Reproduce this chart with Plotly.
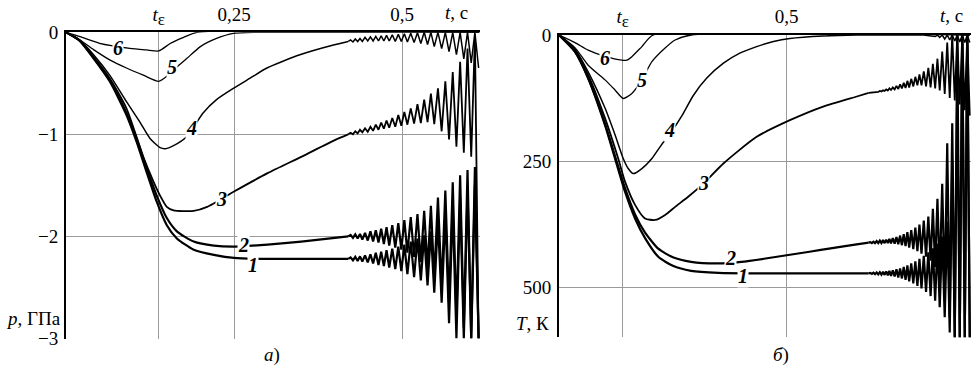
import plotly.graph_objects as go

# ================= panel a): pressure p, GPa =================
a_t_eps = 0.138
a_xticks = [a_t_eps, 0.25, 0.5]
a_xticktext = ["<i>t</i><sub><span style='font-size:17px'>ε</span></sub>", "0,25", "0,5"]
a_yticks = [0, -1, -2, -3]
a_yticktext = ["0", "−1", "−2", "−3"]

# smooth parts (t, p)
a1_t = [0, 0.02, 0.041, 0.065, 0.09, 0.105, 0.12, 0.135, 0.15, 0.165, 0.19, 0.22, 0.25, 0.3, 0.35, 0.42]
a1_p = [0, -0.08, -0.255, -0.48, -0.81, -1.07, -1.37, -1.66, -1.89, -2.02, -2.13, -2.18, -2.21, -2.22, -2.22, -2.22]
a2_t = [0, 0.02, 0.041, 0.065, 0.09, 0.105, 0.12, 0.135, 0.15, 0.165, 0.19, 0.22, 0.25, 0.3, 0.35, 0.42]
a2_p = [0, -0.08, -0.25, -0.47, -0.79, -1.04, -1.33, -1.6, -1.82, -1.95, -2.05, -2.09, -2.1, -2.08, -2.05, -2.0]
a3_t = [0, 0.02, 0.041, 0.065, 0.09, 0.115, 0.13, 0.14, 0.15, 0.16, 0.19, 0.21, 0.25, 0.3, 0.35, 0.4, 0.42]
a3_p = [0, -0.08, -0.24, -0.45, -0.745, -1.22, -1.46, -1.6, -1.71, -1.745, -1.75, -1.71, -1.56, -1.38, -1.22, -1.056, -1.0]
a4_t = [0, 0.02, 0.041, 0.065, 0.09, 0.11, 0.125, 0.14, 0.148, 0.16, 0.18, 0.204, 0.224, 0.249, 0.274, 0.299, 0.348, 0.398, 0.42]
a4_p = [0, -0.075, -0.22, -0.42, -0.68, -0.88, -1.04, -1.13, -1.14, -1.11, -1.02, -0.79, -0.66, -0.55, -0.45, -0.35, -0.22, -0.124, -0.09]
a5_t = [0, 0.021, 0.041, 0.065, 0.09, 0.115, 0.138, 0.15, 0.165, 0.18, 0.2, 0.224, 0.249, 0.284, 0.615]
a5_p = [0, -0.075, -0.17, -0.27, -0.35, -0.42, -0.48, -0.43, -0.34, -0.255, -0.14, -0.06, -0.01, 0, 0]
a6_t = [0, 0.021, 0.05, 0.095, 0.12, 0.138, 0.155, 0.175, 0.195, 0.615]
a6_p = [0, -0.043, -0.108, -0.157, -0.173, -0.183, -0.11, -0.05, 0, 0]

# oscillating tails: times of extrema and the values read at them
a_osc_t = [0.420, 0.4235, 0.427, 0.4305, 0.434, 0.4375, 0.441, 0.445, 0.449, 0.453,
           0.457, 0.461, 0.465, 0.469, 0.473, 0.477, 0.481, 0.4855, 0.490, 0.4945,
           0.499, 0.5035, 0.508, 0.513, 0.518, 0.523, 0.528, 0.533, 0.538, 0.543,
           0.548, 0.5535, 0.559, 0.5645, 0.570, 0.5755, 0.581, 0.5865, 0.592, 0.5975,
           0.603, 0.6085, 0.614]
a1_osc = [-2.22, -2.205, -2.235, -2.20, -2.24, -2.195, -2.245, -2.185, -2.255, -2.175,
          -2.265, -2.16, -2.28, -2.15, -2.29, -2.135, -2.305, -2.12, -2.32, -2.10,
          -2.34, -2.08, -2.37, -2.05, -2.40, -2.02, -2.43, -1.99, -2.48, -1.95,
          -2.55, -1.85, -2.65, -1.78, -2.85, -1.70, -3.0, -1.62, -3.0, -1.55,
          -3.0, -1.50, -3.0]
a2_osc = [-2.00, -1.985, -2.015, -1.98, -2.02, -1.975, -2.03, -1.965, -2.04, -1.95,
          -2.05, -1.94, -2.06, -1.925, -2.075, -1.91, -2.09, -1.89, -2.11, -1.87,
          -2.13, -1.84, -2.16, -1.81, -2.20, -1.78, -2.25, -1.75, -2.31, -1.70,
          -2.40, -1.62, -2.50, -1.55, -2.65, -1.47, -2.80, -1.40, -2.90, -1.35,
          -3.0, -1.32, -3.0]
a3_osc = [-1.00, -0.985, -1.0, -0.97, -0.99, -0.955, -0.98, -0.94, -0.975, -0.925,
          -0.965, -0.905, -0.955, -0.885, -0.945, -0.865, -0.935, -0.84, -0.925, -0.81,
          -0.915, -0.78, -0.905, -0.745, -0.895, -0.705, -0.89, -0.66, -0.88, -0.60,
          -0.90, -0.55, -0.97, -0.48, -1.05, -0.39, -1.12, -0.29, -1.18, -0.16,
          -1.22, -0.05, -3.0]
a4_osc = [-0.09, -0.075, -0.095, -0.065, -0.09, -0.06, -0.09, -0.05, -0.085, -0.045,
          -0.085, -0.04, -0.085, -0.035, -0.085, -0.03, -0.085, -0.025, -0.09, -0.02,
          -0.09, -0.015, -0.095, -0.01, -0.10, -0.005, -0.11, 0, -0.12, 0,
          -0.14, 0, -0.16, 0, -0.19, 0, -0.22, 0, -0.26, 0,
          -0.30, 0, -0.35]

# ================= panel б): temperature T, K =================
b_t_eps = 0.14
b_xticks = [b_t_eps, 0.5]
b_xticktext = ["<i>t</i><sub><span style='font-size:17px'>ε</span></sub>", "0,5"]
b_yticks = [0, 250, 500]
b_yticktext = ["0", "250", "500"]

b1_t = [0, 0.035, 0.064, 0.101, 0.123, 0.145, 0.167, 0.189, 0.218, 0.25, 0.29, 0.35, 0.45, 0.55, 0.68]
b1_T = [0, 33, 86, 179, 245, 311, 364, 403, 440, 458, 468, 472, 473, 473, 473]
b2_t = [0, 0.035, 0.064, 0.101, 0.123, 0.145, 0.167, 0.189, 0.218, 0.25, 0.29, 0.35, 0.4, 0.45, 0.5, 0.55, 0.6, 0.65, 0.68]
b2_T = [0, 33, 85, 176, 240, 304, 356, 392, 424, 441, 450, 453, 450, 444, 437, 430, 423, 416, 412]
b3_t = [0, 0.035, 0.064, 0.101, 0.13, 0.145, 0.167, 0.189, 0.211, 0.233, 0.255, 0.285, 0.317, 0.361, 0.434, 0.507, 0.58, 0.654, 0.68]
b3_T = [0, 30, 79, 165, 245, 291, 337, 364, 367, 357, 341, 320, 295, 255, 202, 169, 142, 122, 115]
b4_t = [0, 0.035, 0.064, 0.101, 0.123, 0.141, 0.152, 0.163, 0.182, 0.204, 0.225, 0.247, 0.27, 0.295, 0.324, 0.361, 0.397, 0.434, 0.471, 0.507, 0.58, 0.654, 0.80]
b4_T = [0, 28, 73, 145, 198, 245, 265, 275, 265, 245, 218, 192, 160, 120, 86, 56, 36, 23, 13, 7, 2, 0, 0]
b5_t = [0, 0.035, 0.064, 0.101, 0.123, 0.141, 0.16, 0.182, 0.204, 0.233, 0.255, 0.29, 0.902]
b5_T = [0, 25, 60, 89, 109, 126, 116, 89, 53, 26, 10, 0, 0]
b6_t = [0, 0.035, 0.064, 0.1, 0.138, 0.149, 0.16, 0.182, 0.207, 0.902]
b6_T = [0, 15, 30, 42, 50, 50, 43, 23, 0, 0]

b_osc_t = [0.680, 0.6835, 0.687, 0.6905, 0.694, 0.6975, 0.701, 0.7045, 0.708, 0.7115,
           0.715, 0.7185, 0.722, 0.7255, 0.729, 0.733, 0.737, 0.741, 0.745, 0.749,
           0.753, 0.757, 0.761, 0.765, 0.769, 0.7735, 0.778, 0.7825, 0.787, 0.7915,
           0.796, 0.801, 0.806, 0.811, 0.816, 0.821, 0.826, 0.831, 0.836, 0.8415,
           0.847, 0.8525, 0.858, 0.8635, 0.869, 0.8745, 0.880, 0.8855, 0.891, 0.8965,
           0.902]
b1_osc = [473, 472, 474, 471.5, 474.5, 471, 475, 470.5, 475.5, 470,
          476, 469, 477, 468, 478, 467, 479, 465, 481, 463,
          483, 460, 486, 457, 489, 453, 493, 449, 498, 444,
          503, 438, 510, 431, 518, 423, 527, 414, 540, 400,
          560, 370, 590, 250, 600, 100, 600, 0, 600, 0,
          600]
b2_osc = [412, 411, 413, 410, 413, 409, 413, 408, 413, 407,
          413, 406, 413, 404.5, 413.5, 403, 414, 401, 415, 398,
          417, 395, 419, 391, 422, 387, 425, 382, 429, 376,
          434, 368, 440, 360, 448, 345, 460, 325, 480, 295,
          510, 215, 560, 175, 600, 0, 600, 0, 600, 0,
          600]
b3_osc = [115, 114.5, 115, 113.5, 114, 112.5, 113, 111, 112, 109.5,
          111, 108, 110, 106, 109, 104, 108, 101, 107, 98,
          106, 95, 105, 91, 104, 87, 102, 83, 100, 78,
          100, 72, 102, 65, 104, 57, 106, 47, 110, 33,
          117, 15, 125, 0, 130, 0, 138, 0, 149, 0,
          160]
b4_tail_t = [0.80, 0.826, 0.831, 0.836, 0.8415, 0.847, 0.8525, 0.858, 0.8635, 0.869, 0.8745, 0.880, 0.8855, 0.891, 0.8965, 0.902]
b4_tail_T = [0, 3, 0, 5, 0, 8, 0, 10, 0, 12, 0, 14, 0, 15, 0, 15]

# curve labels (positions)
a_lab = {"1": (0.279, -2.28), "2": (0.264, -2.085), "3": (0.232, -1.63),
         "4": (0.187, -0.94), "5": (0.157, -0.337), "6": (0.078, -0.157)}
b_lab = {"1": (0.405, 478), "2": (0.377, 443), "3": (0.317, 293),
         "4": (0.242, 188), "5": (0.182, 89), "6": (0.101, 46)}

widths = {"1": 2.2, "2": 2.2, "3": 1.8, "4": 1.5, "5": 1.3, "6": 1.3}

fig = go.Figure()


def add(x, y, w, xa, ya, spline=True):
    fig.add_trace(go.Scatter(
        x=x, y=y, mode="lines", xaxis=xa, yaxis=ya, showlegend=False,
        hoverinfo="skip",
        line=dict(color="black", width=w, shape="spline" if spline else "linear",
                  smoothing=0.6 if spline else None)))


# panel a
add(a1_t, a1_p, widths["1"], "x", "y")
add(a2_t, a2_p, widths["2"], "x", "y")
add(a3_t, a3_p, widths["3"], "x", "y")
add(a4_t, a4_p, widths["4"], "x", "y")
add(a5_t, a5_p, widths["5"], "x", "y")
add(a6_t, a6_p, widths["6"], "x", "y")
add(a_osc_t, a1_osc, widths["1"], "x", "y", spline=False)
add(a_osc_t, a2_osc, widths["2"], "x", "y", spline=False)
add(a_osc_t, a3_osc, widths["3"], "x", "y", spline=False)
add(a_osc_t, a4_osc, widths["4"], "x", "y", spline=False)

# panel b
add(b1_t, b1_T, widths["1"], "x2", "y2")
add(b2_t, b2_T, widths["2"], "x2", "y2")
add(b3_t, b3_T, widths["3"], "x2", "y2")
add(b4_t, b4_T, widths["4"], "x2", "y2")
add(b5_t, b5_T, widths["5"], "x2", "y2")
add(b6_t, b6_T, widths["6"], "x2", "y2")
add(b_osc_t, b1_osc, widths["1"], "x2", "y2", spline=False)
add(b_osc_t, b2_osc, widths["2"], "x2", "y2", spline=False)
add(b_osc_t, b3_osc, widths["3"], "x2", "y2", spline=False)
add(b4_tail_t, b4_tail_T, widths["4"], "x2", "y2", spline=False)

W, H = 973, 370
FONT = "Liberation Serif"
GRID = "#9a9a9a"

annotations = []
for k, (x, y) in a_lab.items():
    annotations.append(dict(x=x, y=y, xref="x", yref="y", text=f"<b><i>{k}</i></b>",
                            showarrow=False, bgcolor="white", borderpad=0,
                            font=dict(family=FONT, size=20, color="black")))
for k, (x, y) in b_lab.items():
    annotations.append(dict(x=x, y=y, xref="x2", yref="y2", text=f"<b><i>{k}</i></b>",
                            showarrow=False, bgcolor="white", borderpad=0,
                            font=dict(family=FONT, size=20, color="black")))


def paper(px, py, text, xanchor="center", yanchor="middle"):
    annotations.append(dict(x=px / W, y=1 - py / H, xref="paper", yref="paper",
                            text=text, showarrow=False, xanchor=xanchor, yanchor=yanchor,
                            font=dict(family=FONT, size=19, color="black")))


paper(456, 13, "<i>t</i>, с")
paper(951, 15, "<i>t</i>, с")
paper(33, 318, "<i>p</i>, ГПа")
paper(532, 323, "<i>T</i>, К")
paper(272, 355, "<i>а</i>)")
paper(781, 355, "<i>б</i>)")

common = dict(showgrid=True, gridcolor=GRID, gridwidth=1, zeroline=False, showline=True,
              linecolor="black", linewidth=2, ticks="", automargin=False,
              tickfont=dict(family=FONT, size=19, color="black"))

fig.update_layout(
    width=W, height=H, margin=dict(l=0, r=0, t=0, b=0, autoexpand=False),
    paper_bgcolor="white", plot_bgcolor="white",
    font=dict(family=FONT, size=19, color="black"),
    annotations=annotations,
    xaxis=dict(domain=[66 / W, 480 / W], range=[0, 414 / 672], side="top",
               tickvals=a_xticks, ticktext=a_xticktext, anchor="y",
               ticklabelstandoff=2, **common),
    yaxis=dict(domain=[1 - 338.5 / H, 1 - 32.3 / H], range=[-3, 0],
               tickvals=a_yticks, ticktext=a_yticktext, anchor="x",
               ticklabelstandoff=2, **common),
    xaxis2=dict(domain=[559 / W, 971 / W], range=[0, 412 / 455.4], side="top",
                tickvals=b_xticks, ticktext=b_xticktext, anchor="y2",
                ticklabelstandoff=2, **common),
    yaxis2=dict(domain=[1 - 337.4 / H, 1 - 35 / H], range=[600, 0],
                tickvals=b_yticks, ticktext=b_yticktext, anchor="x2",
                ticklabelstandoff=2, **common),
)

# page body without default margin so the figure sits at the window's corner
fig.write_html("out.html", config={"displayModeBar": False},
               post_script="document.body.style.margin='0';document.body.style.overflow='hidden';")
